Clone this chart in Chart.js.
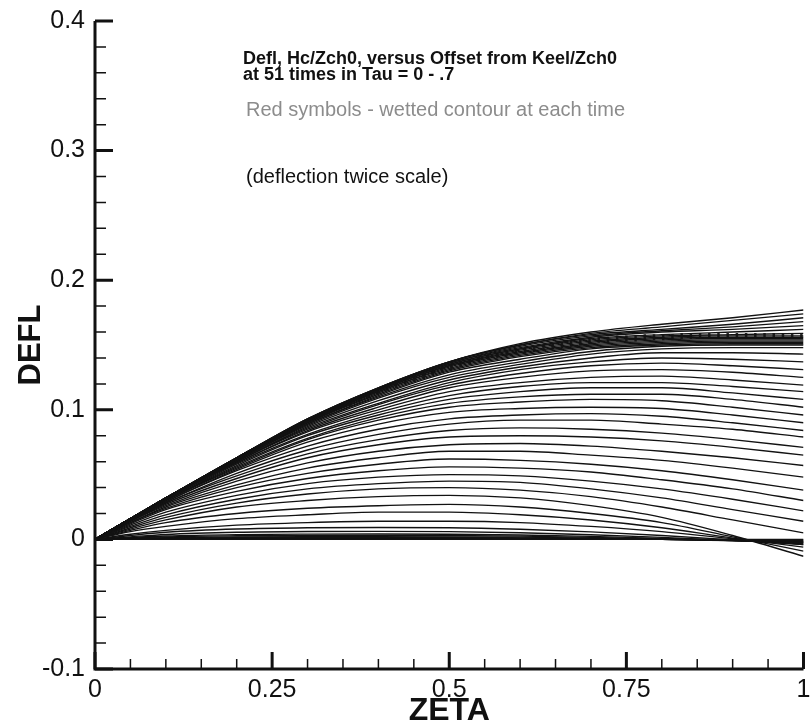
<!DOCTYPE html>
<html><head><meta charset="utf-8">
<script src="https://cdn.jsdelivr.net/npm/chart.js@4/dist/chart.umd.min.js"></script>
<style>html,body{margin:0;padding:0;background:#fff}#wrap{width:810px;height:727px;position:relative}canvas{display:block}</style>
</head><body><div id="wrap"><canvas id="c" width="810" height="727"></canvas></div>
<script>
// ---- data ----
const zeta = [0, 0.05, 0.1, 0.2, 0.3, 0.4, 0.5, 0.6, 0.7, 0.8, 0.9, 1.0];
const defl_t00 = [0,0,0,0,0,0,0,0,0,0,0,0];
const defl_t01 = [0,.0001,.0002,.0003,.0003,.0003,.0003,.0002,.0001,0,-.0002,-.0005];
const defl_t02 = [0,.0002,.0004,.0006,.0006,.0006,.0006,.0005,.0003,0,-.0005,-.001];
const defl_t03 = [0,.0003,.0006,.0009,.001,.001,.001,.0008,.0005,0,-.0007,-.0015];
const defl_t04 = [0,.0005,.001,.0014,.0015,.0015,.0015,.0012,.0007,0,-.001,-.002];
const defl_t05 = [0,.0007,.0013,.0019,.0021,.0021,.002,.0017,.001,.0001,-.001,-.002];
const defl_t06 = [0,.001,.002,.0028,.0031,.0031,.003,.0025,.0016,.0004,-.001,-.0025];
const defl_t07 = [0,.0014,.0026,.0037,.0041,.0042,.004,.0034,.0023,.0008,-.001,-.003];
const defl_t08 = [0,.002,.0038,.0055,.0061,.0062,.006,.0051,.0036,.0016,-.0008,-.0035];
const defl_t09 = [0,.003,.0055,.008,.009,.0092,.009,.0078,.0058,.003,-.0004,-.004];
const defl_t10 = [0,.004,.007,.011,.013,.014,.014,.013,.010,.006,.0005,-.004];
const defl_t11 = [0,.006,.010,.016,.019,.021,.021,.019,.015,.009,.001,-.006];
const defl_t12 = [0,.007,.013,.020,.024,.026,.027,.025,.020,.013,.002,-.009];
const defl_t13 = [0,.008,.015,.025,.030,.033,.034,.032,.026,.017,.003,-.013];
const defl_t14 = [0,.009,.017,.028,.035,.039,.040,.038,.033,.025,.015,.005];
const defl_t15 = [0,.010,.019,.031,.039,.043,.045,.044,.039,.032,.023,.014];
const defl_t16 = [0,.011,.021,.034,.043,.048,.050,.049,.045,.039,.031,.022];
const defl_t17 = [0,.012,.023,.037,.047,.053,.056,.055,.052,.046,.039,.030];
const defl_t18 = [0,.013,.024,.040,.051,.058,.062,.061,.058,.053,.046,.038];
const defl_t19 = [0,.013,.025,.042,.055,.063,.068,.068,.065,.061,.055,.048];
const defl_t20 = [0,.014,.026,.045,.059,.068,.073,.074,.072,.068,.063,.057];
const defl_t21 = [0,.014,.027,.047,.063,.073,.079,.080,.079,.076,.071,.065];
const defl_t22 = [0,.014,.028,.049,.066,.077,.084,.086,.085,.082,.077,.071];
const defl_t23 = [0,.015,.028,.051,.069,.081,.089,.092,.092,.089,.085,.079];
const defl_t24 = [0,.015,.029,.053,.072,.085,.093,.096,.097,.095,.090,.084];
const defl_t25 = [0,.015,.029,.054,.075,.089,.098,.101,.102,.101,.096,.090];
const defl_t26 = [0,.015,.030,.055,.077,.092,.102,.106,.108,.107,.102,.096];
const defl_t27 = [0,.015,.030,.056,.078,.094,.105,.110,.112,.112,.108,.102];
const defl_t28 = [0,.015,.030,.057,.080,.096,.108,.114,.117,.117,.113,.108];
const defl_t29 = [0,.016,.030,.058,.081,.098,.111,.118,.121,.121,.118,.114];
const defl_t30 = [0,.016,.031,.059,.083,.100,.114,.121,.125,.126,.123,.119];
const defl_t31 = [0,.016,.031,.059,.084,.102,.117,.125,.130,.131,.129,.125];
const defl_t32 = [0,.016,.031,.060,.085,.104,.119,.128,.134,.136,.134,.131];
const defl_t33 = [0,.016,.031,.060,.086,.105,.121,.131,.137,.140,.139,.137];
const defl_t34 = [0,.016,.031,.060,.087,.107,.123,.133,.140,.144,.144,.143];
const defl_t35 = [0,.016,.031,.061,.088,.109,.125,.135,.143,.147,.148,.148];
const defl_t36 = [0,.016,.031,.061,.089,.110,.127,.137,.145,.149,.150,.150];
const defl_t37 = [0,.016,.031,.061,.089,.111,.129,.139,.147,.150,.151,.151];
const defl_t38 = [0,.016,.032,.062,.090,.112,.130,.141,.148,.151,.152,.152];
const defl_t39 = [0,.016,.032,.062,.090,.113,.131,.142,.149,.152,.153,.153];
const defl_t40 = [0,.016,.032,.062,.090,.114,.132,.143,.150,.153,.154,.154];
const defl_t41 = [0,.016,.032,.062,.091,.114,.133,.144,.151,.154,.155,.155];
const defl_t42 = [0,.016,.032,.062,.091,.115,.134,.145,.152,.155,.156,.156];
const defl_t43 = [0,.016,.032,.062,.091,.115,.134,.146,.153,.156,.157,.157];
const defl_t44 = [0,.016,.032,.063,.092,.116,.135,.147,.154,.157,.158,.159];
const defl_t45 = [0,.016,.032,.063,.092,.116,.135,.147,.155,.158,.160,.162];
const defl_t46 = [0,.016,.032,.063,.092,.116,.136,.148,.156,.160,.162,.165];
const defl_t47 = [0,.016,.032,.063,.092,.116,.136,.149,.157,.161,.164,.168];
const defl_t48 = [0,.016,.032,.063,.093,.117,.137,.150,.158,.162,.166,.171];
const defl_t49 = [0,.016,.032,.063,.093,.117,.137,.150,.159,.164,.169,.174];
const defl_t50 = [0,.016,.032,.063,.093,.117,.137,.151,.160,.166,.171,.177];

// wetted-contour symbols (one per time, along the top of the family)
const wettedZeta = [0.36,0.373,0.386,0.399,0.412,0.425,0.438,0.451,0.464,0.477,0.49,0.503,0.516,0.529,0.542,0.555,0.568,0.581,0.594,0.607,0.62,0.633,0.646,0.659,0.672,0.685,0.698,0.711,0.724,0.737,0.75,0.763,0.776,0.789,0.802,0.815,0.828,0.841,0.854,0.867,0.88,0.893,0.906,0.919,0.932,0.945,0.958,0.971,0.984,0.997];
const wettedDefl = [0.105,0.108,0.111,0.114,0.117,0.119,0.122,0.124,0.126,0.129,0.131,0.133,0.135,0.137,0.139,0.141,0.142,0.144,0.145,0.146,0.147,0.148,0.149,0.150,0.151,0.152,0.153,0.154,0.154,0.155,0.155,0.155,0.156,0.156,0.156,0.156,0.157,0.157,0.157,0.157,0.157,0.157,0.157,0.157,0.157,0.157,0.157,0.157,0.157,0.157];

// ---- ticks and texts ----
const yTickValues = [-0.1, 0, 0.1, 0.2, 0.3, 0.4];
const yTickLabels = ['-0.1', '0', '0.1', '0.2', '0.3', '0.4'];
const yMinorTicks = [-0.08,-0.06,-0.04,-0.02,0.02,0.04,0.06,0.08,0.12,0.14,0.16,0.18,0.22,0.24,0.26,0.28,0.32,0.34,0.36,0.38];
const xTickValues = [0, 0.25, 0.5, 0.75, 1];
const xTickLabels = ['0', '0.25', '0.5', '0.75', '1'];
const xMinorTicks = [0.05,0.1,0.15,0.2,0.3,0.35,0.4,0.45,0.55,0.6,0.65,0.7,0.8,0.85,0.9,0.95];
const xTitle = 'ZETA';
const yTitle = 'DEFL';
const titleLines = ['Defl, Hc/Zch0, versus Offset from Keel/Zch0', 'at 51 times in Tau = 0 - .7'];
const noteGray = 'Red symbols - wetted contour at each time';
const noteScale = '(deflection twice scale)';

const curves = [defl_t00,defl_t01,defl_t02,defl_t03,defl_t04,defl_t05,defl_t06,defl_t07,defl_t08,defl_t09,
  defl_t10,defl_t11,defl_t12,defl_t13,defl_t14,defl_t15,defl_t16,defl_t17,defl_t18,defl_t19,
  defl_t20,defl_t21,defl_t22,defl_t23,defl_t24,defl_t25,defl_t26,defl_t27,defl_t28,defl_t29,
  defl_t30,defl_t31,defl_t32,defl_t33,defl_t34,defl_t35,defl_t36,defl_t37,defl_t38,defl_t39,
  defl_t40,defl_t41,defl_t42,defl_t43,defl_t44,defl_t45,defl_t46,defl_t47,defl_t48,defl_t49,defl_t50];

const FONT = "'Liberation Sans', Arial, Helvetica, sans-serif";

const datasets = curves.map((arr, k) => ({
  type: 'line',
  label: 't' + k,
  data: zeta.map((x, i) => ({x: x, y: arr[i]})),
  borderColor: '#121212',
  borderWidth: 1.35,
  pointRadius: 0,
  fill: false,
  cubicInterpolationMode: 'monotone'
}));
datasets.push({
  type: 'scatter',
  label: 'wetted',
  data: wettedZeta.map((x, i) => ({x: x, y: wettedDefl[i]})),
  pointStyle: 'line',
  rotation: 90,
  pointRadius: 3,
  borderColor: '#2a2a2a',
  borderWidth: 2.5,
  backgroundColor: '#2a2a2a'
});

const axesPlugin = {
  id: 'axesPlugin',
  afterDatasetsDraw(chart) {
    const ctx = chart.ctx, xs = chart.scales.x, ys = chart.scales.y;
    const x0 = xs.getPixelForValue(0), x1 = xs.getPixelForValue(1);
    const yb = ys.getPixelForValue(-0.1), yt = ys.getPixelForValue(0.4);
    ctx.save();
    ctx.strokeStyle = '#111';
    ctx.lineCap = 'butt';
    ctx.lineWidth = 3;
    ctx.beginPath();
    ctx.moveTo(x0, yt); ctx.lineTo(x0, yb + 1.5);
    ctx.moveTo(x0 - 1.5, yb); ctx.lineTo(x1, yb);
    ctx.stroke();
    ctx.beginPath();
    yTickValues.forEach(v => { const p = ys.getPixelForValue(v); ctx.moveTo(x0, p); ctx.lineTo(x0 + 18, p); });
    xTickValues.forEach(v => { const p = xs.getPixelForValue(v); ctx.moveTo(p, yb); ctx.lineTo(p, yb - 17); });
    ctx.stroke();
    ctx.lineWidth = 1.5;
    ctx.beginPath();
    yMinorTicks.forEach(v => { const p = ys.getPixelForValue(v); ctx.moveTo(x0, p); ctx.lineTo(x0 + 11, p); });
    xMinorTicks.forEach(v => { const p = xs.getPixelForValue(v); ctx.moveTo(p, yb); ctx.lineTo(p, yb - 10); });
    ctx.stroke();
    ctx.restore();
  },
  afterDraw(chart) {
    const ctx = chart.ctx;
    ctx.save();
    ctx.textAlign = 'left';
    ctx.textBaseline = 'alphabetic';
    ctx.fillStyle = '#111';
    ctx.font = 'bold 18px ' + FONT;
    ctx.fillText(titleLines[0], 243, 64);
    ctx.fillText(titleLines[1], 243, 80);
    ctx.fillStyle = '#8c8c8c';
    ctx.font = '20px ' + FONT;
    ctx.fillText(noteGray, 246, 116);
    ctx.fillStyle = '#111';
    ctx.fillText(noteScale, 246, 183);
    ctx.restore();
  }
};

new Chart(document.getElementById('c'), {
  data: { datasets: datasets },
  options: {
    responsive: false,
    animation: false,
    devicePixelRatio: 1,
    layout: { padding: { left: 0, right: 6, top: 21, bottom: 0 } },
    plugins: { legend: { display: false }, tooltip: { enabled: false } },
    scales: {
      x: {
        type: 'linear', min: 0, max: 1,
        grid: { display: false, drawTicks: false }, border: { display: false },
        afterBuildTicks: s => { s.ticks = xTickValues.map(v => ({ value: v })); },
        afterFit: s => { s.height = 58; s.paddingLeft = 0; s.paddingRight = 0; },
        ticks: {
          autoSkip: false, maxRotation: 0, padding: 6, color: '#111',
          font: { family: FONT, size: 25 },
          callback: v => xTickLabels[xTickValues.indexOf(v)]
        },
        title: { display: true, text: xTitle, color: '#111', padding: { top: 0, bottom: 0 },
                 font: { family: FONT, size: 32, weight: 'bold', lineHeight: 1.0 } }
      },
      y: {
        type: 'linear', min: -0.1, max: 0.4,
        grid: { display: false, drawTicks: false }, border: { display: false },
        afterBuildTicks: s => { s.ticks = yTickValues.map(v => ({ value: v })); },
        afterFit: s => { s.width = 95; s.paddingTop = 0; s.paddingBottom = 0; },
        ticks: {
          autoSkip: false, padding: 10, color: '#111',
          font: { family: FONT, size: 25 },
          callback: v => yTickLabels[yTickValues.indexOf(v)]
        },
        title: { display: true, text: yTitle, color: '#111', padding: { top: 13, bottom: 0 },
                 font: { family: FONT, size: 31, weight: 'bold' } }
      }
    }
  },
  plugins: [axesPlugin]
});
</script></body></html>
